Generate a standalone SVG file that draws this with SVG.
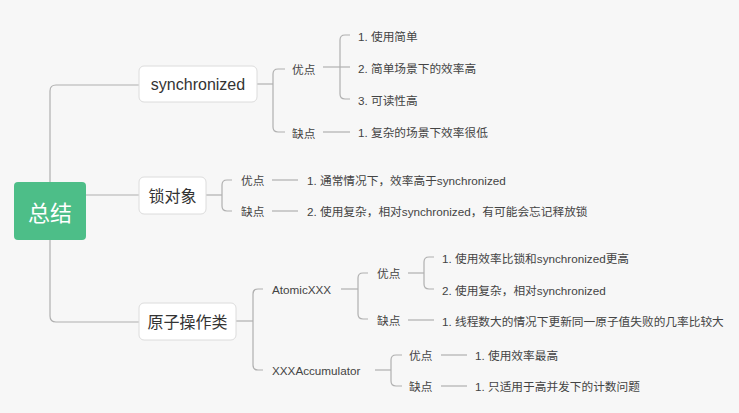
<svg xmlns="http://www.w3.org/2000/svg" width="739" height="413" viewBox="0 0 739 413">
<style>
.bg{fill:#f7f7f7}
.ln{fill:none;stroke:#b0b0b0;stroke-width:1.2}
.box{fill:#ffffff;stroke:#dcdcdc;stroke-width:1}
.t16{font-family:"Liberation Sans","Noto Sans CJK SC",sans-serif;font-size:16px;fill:#333}
.t12{font-family:"Liberation Sans","Noto Sans CJK SC",sans-serif;font-size:11.7px;fill:#444}
.root{font-family:"Noto Sans CJK SC",sans-serif;font-size:22px;fill:#ffffff}
text{dominant-baseline:central}
</style>
<rect class="bg" x="0" y="0" width="739" height="413"/>
<g id="connectors">
<path class="ln" d="M50,182 V91 Q50,85 56,85 H139"/>
<path class="ln" d="M86,195 H139"/>
<path class="ln" d="M50,240 V316 Q50,322 56,322 H139"/>
<path class="ln" d="M257,84 H273"/>
<path class="ln" d="M285,69 H278 Q273,69 273,74 V127 Q273,132 278,132 H285"/>
<path class="ln" d="M323,67 H350"/>
<path class="ln" d="M350,35 H345 Q340,35 340,40 V94 Q340,99 345,99 H350"/>
<path class="ln" d="M323,132 H350"/>
<path class="ln" d="M206,195 H222"/>
<path class="ln" d="M232,180 H227 Q222,180 222,185 V206 Q222,211 227,211 H232"/>
<path class="ln" d="M272,180 H298"/>
<path class="ln" d="M272,211 H298"/>
<path class="ln" d="M236,321 H253"/>
<path class="ln" d="M263,289 H258 Q253,289 253,294 V365 Q253,370 258,370 H263"/>
<path class="ln" d="M341,289 H358"/>
<path class="ln" d="M368,273 H363 Q358,273 358,278 V314 Q358,319 363,319 H368"/>
<path class="ln" d="M408,273 H424"/>
<path class="ln" d="M434,257 H429 Q424,257 424,262 V284 Q424,289 429,289 H434"/>
<path class="ln" d="M408,320 H434"/>
<path class="ln" d="M375,370 H391"/>
<path class="ln" d="M402,355 H396 Q391,355 391,360 V381 Q391,386 396,386 H402"/>
<path class="ln" d="M441,355 H467"/>
<path class="ln" d="M441,386 H467"/>
</g>
<g id="root">
<rect x="14" y="182" width="72" height="58" rx="4" fill="#4dbe88"/>
<text class="root" x="50" y="211" text-anchor="middle">总结</text>
</g>
<g id="sync">
<rect class="box" x="139" y="66" width="118" height="36" rx="5"/>
<text class="t16" x="198" y="84" text-anchor="middle">synchronized</text>
</g>
<g id="sync-pro"><text class="t12" x="292" y="69">优点</text></g>
<g id="sync-con"><text class="t12" x="292" y="133">缺点</text></g>
<g id="sync-pro-1"><text class="t12" x="358" y="36">1. 使用简单</text></g>
<g id="sync-pro-2"><text class="t12" x="358" y="68">2. 简单场景下的效率高</text></g>
<g id="sync-pro-3"><text class="t12" x="358" y="100">3. 可读性高</text></g>
<g id="sync-con-1"><text class="t12" x="358" y="132">1. 复杂的场景下效率很低</text></g>
<g id="lock">
<rect class="box" x="139" y="177" width="67" height="37" rx="5"/>
<text class="t16" x="172.5" y="196" text-anchor="middle">锁对象</text>
</g>
<g id="lock-pro"><text class="t12" x="241" y="180">优点</text></g>
<g id="lock-con"><text class="t12" x="241" y="211">缺点</text></g>
<g id="lock-pro-1"><text class="t12" x="307" y="180">1. 通常情况下，效率高于synchronized</text></g>
<g id="lock-con-1"><text class="t12" x="307" y="211">2. 使用复杂，相对synchronized，有可能会忘记释放锁</text></g>
<g id="atomic">
<rect class="box" x="139" y="303" width="97" height="37" rx="5"/>
<text class="t16" x="187.5" y="322" text-anchor="middle">原子操作类</text>
</g>
<g id="atomicxxx"><text class="t12" x="272" y="289">AtomicXXX</text></g>
<g id="atomic-pro"><text class="t12" x="377" y="273">优点</text></g>
<g id="atomic-con"><text class="t12" x="377" y="320">缺点</text></g>
<g id="atomic-pro-1"><text class="t12" x="442" y="258">1. 使用效率比锁和synchronized更高</text></g>
<g id="atomic-pro-2"><text class="t12" x="442" y="290">2. 使用复杂，相对synchronized</text></g>
<g id="atomic-con-1"><text class="t12" x="442" y="321">1. 线程数大的情况下更新同一原子值失败的几率比较大</text></g>
<g id="accum"><text class="t12" x="272" y="370">XXXAccumulator</text></g>
<g id="accum-pro"><text class="t12" x="409" y="355">优点</text></g>
<g id="accum-con"><text class="t12" x="409" y="386">缺点</text></g>
<g id="accum-pro-1"><text class="t12" x="475" y="355">1. 使用效率最高</text></g>
<g id="accum-con-1"><text class="t12" x="475" y="386">1. 只适用于高并发下的计数问题</text></g>
</svg>
